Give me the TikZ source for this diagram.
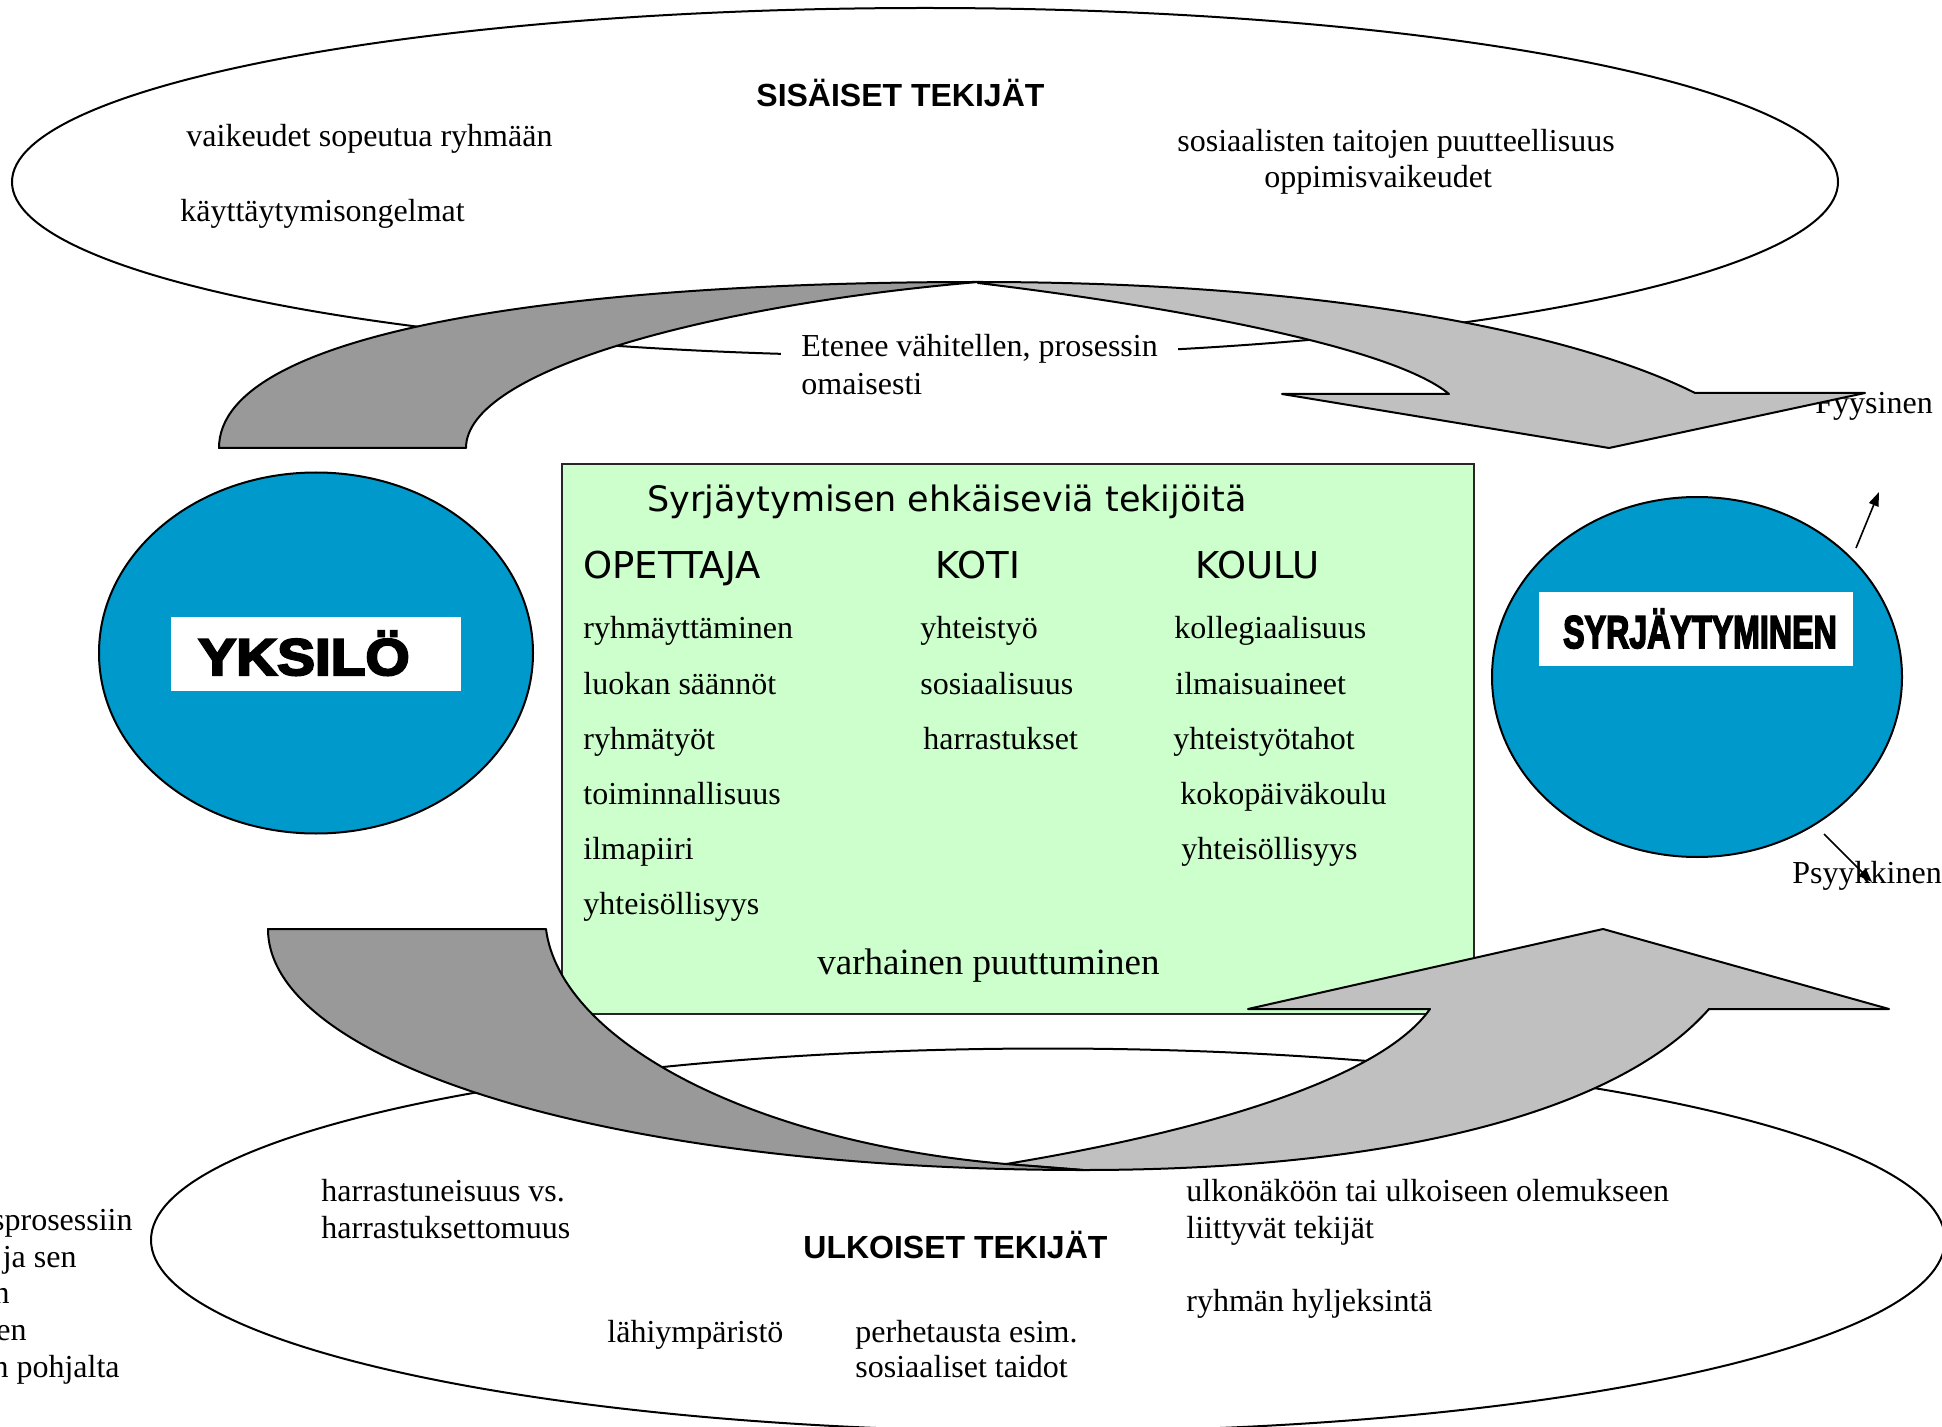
\documentclass[tikz,border=0pt]{standalone}
\usepackage{fontspec}
\setmainfont{Liberation Serif}
\newfontfamily\headfont{Liberation Sans}
\newfontfamily\boxfont{DejaVu Sans}
\newfontfamily\heavyfont{Liberation Sans}[FakeBold=4]
\usetikzlibrary{arrows.meta,shapes.geometric}

\begin{document}
\begin{tikzpicture}[x=0.5pt,y=0.5pt,yscale=-1,xscale=1,
  txt/.style={anchor=base west,inner sep=0pt,font=\fontsize{16}{19}\selectfont},
  txtr/.style={txt,anchor=base east},
  heading/.style={anchor=base west,inner sep=0pt,font=\headfont\bfseries\fontsize{16}{19}\selectfont},
  boxhead/.style={anchor=base west,inner sep=0pt,font=\boxfont\fontsize{18.5}{22}\selectfont},
  ring/.style={draw,shape=ellipse,line width=1pt,inner sep=0pt},
  blob/.style={draw,shape=ellipse,line width=1pt,inner sep=0pt,fill={rgb, 255:red, 0; green, 153; blue, 204 }},
  tag/.style={fill=white,inner sep=0pt},
  bigword/.style={anchor=base,inner sep=0pt,font=\heavyfont\bfseries},
  panel/.style={draw=black!85,line width=0.75pt,inner sep=0pt,fill={rgb, 255:red, 204; green, 255; blue, 204 }},
  backband/.style={draw,line width=1pt,line join=round,fill={rgb, 255:red, 153; green, 153; blue, 153 }},
  frontband/.style={draw,line width=1pt,line join=round,fill={rgb, 255:red, 192; green, 192; blue, 192 }},
  pointer/.style={line width=0.8pt,-{Triangle[length=7pt,width=5pt]}}
  ]
\useasboundingbox (0,0) rectangle (1942,1427);

%Shape: Ellipse
\node[ring,minimum width=913pt,minimum height=174pt] (inner) at (925,182) {};
%Shape: Ellipse
\node[ring,minimum width=897pt,minimum height=191.5pt] (outer) at (1048,1240) {};

% Text Node
\node[heading] (sisaiset) at (756,107) {SISÄISET TEKIJÄT};
\node[txt] (sopeutua) at (186,147) {vaikeudet sopeutua ryhmään};
\node[txt] (kaytos) at (180,222) {käyttäytymisongelmat};
\node[txt] (taidot) at (1177,152) {sosiaalisten taitojen puutteellisuus};
\node[txt] (oppiminen) at (1264,188) {oppimisvaikeudet};
\node[txt,fill=white,inner xsep=10pt,inner ysep=3pt] (etenee) at (781,357) {Etenee vähitellen, prosessin};
\node[txt] (omaisesti) at (801,395) {omaisesti};

% Text Node
\node[heading] (ulkoiset) at (803,1258) {ULKOISET TEKIJÄT};
\node[txt] (harrastus) at (321,1201) {harrastuneisuus vs.};
\node[txt] (harrastusB) at (321,1238) {harrastuksettomuus};
\node[txt] (ulkonako) at (1186,1201) {ulkonäköön tai ulkoiseen olemukseen};
\node[txt] (ulkonakoB) at (1186,1238) {liittyvät tekijät};
\node[txt] (hyljeksinta) at (1186,1311) {ryhmän hyljeksintä};
\node[txt] (lahiymparisto) at (607,1342) {lähiympäristö};
\node[txt] (perhe) at (855,1342) {perhetausta esim.};
\node[txt] (perheB) at (855,1377) {sosiaaliset taidot};

% Text Node
\node[txtr] (reunaA) at (133,1230) {sprosessiin};
\node[txtr] (reunaB) at (77,1267) {ja sen};
\node[txtr] (reunaC) at (10,1303) {n};
\node[txtr] (reunaD) at (27,1340) {en};
\node[txtr] (reunaE) at (120,1377) {n pohjalta};

%Shape: Ellipse
\node[blob,minimum width=217pt,minimum height=180.5pt] (yksilo) at (316,653) {};
\node[tag,minimum width=145pt,minimum height=37pt] (yksiloTag) at (316,654) {};
\node[bigword,font=\heavyfont\bfseries\fontsize{25.8}{30}\selectfont] (yksiloText) at (304,675) {\scalebox{1.1}[1]{YKSILÖ}};

%Shape: Ellipse
\node[blob,minimum width=205pt,minimum height=180pt] (syrj) at (1697,677) {};
\node[tag,minimum width=157pt,minimum height=37pt] (syrjTag) at (1696,629) {};
\node[bigword,font=\heavyfont\bfseries\fontsize{23}{27}\selectfont] (syrjText) at (1700,648) {\scalebox{0.7}[1]{SYRJÄYTYMINEN}};

%Shape: Rectangle
\node[panel,minimum width=456pt,minimum height=275pt] (ehkaisy) at (1018,739) {};
\node[boxhead,font=\boxfont\fontsize{17.5}{21}\selectfont] (ehkaisyTitle) at (647,511) {Syrjäytymisen ehkäiseviä tekijöitä};
\node[boxhead] (opettaja) at (583,578) {OPETTAJA};
\node[boxhead] (koti) at (935,578) {KOTI};
\node[boxhead] (koulu) at (1195,578) {KOULU};

\node[txt] (opA) at (583,638) {ryhmäyttäminen};
\node[txt] (opB) at (583,694) {luokan säännöt};
\node[txt] (opC) at (583,749) {ryhmätyöt};
\node[txt] (opD) at (583,804) {toiminnallisuus};
\node[txt] (opE) at (583,859) {ilmapiiri};
\node[txt] (opF) at (583,914) {yhteisöllisyys};

\node[txt] (kotiA) at (920,638) {yhteistyö};
\node[txt] (kotiB) at (920,694) {sosiaalisuus};
\node[txt] (kotiC) at (923,749) {harrastukset};

\node[txt] (kouluA) at (1174,638) {kollegiaalisuus};
\node[txt] (kouluB) at (1175,694) {ilmaisuaineet};
\node[txt] (kouluC) at (1173,749) {yhteistyötahot};
\node[txt] (kouluD) at (1180,804) {kokopäiväkoulu};
\node[txt] (kouluE) at (1181,859) {yhteisöllisyys};

\node[txt,font=\fontsize{18.5}{22}\selectfont] (varhainen) at (817,974) {varhainen puuttuminen};

% Text Node
\node[txt] (fyysinen) at (1815,414) {Fyysinen};
\node[txt] (psyykkinen) at (1792,883) {Psyykkinen};

%Curved Arrow (top)
\draw[backband] (219,448) .. controls (219,330) and (570,282) .. (978,282) .. controls (710,305) and (466,370) .. (466,448) -- cycle;
\draw[frontband] (978,282) .. controls (1355,282) and (1590,340) .. (1695,393) -- (1865,393) -- (1609,448) -- (1282,394) -- (1449,394) .. controls (1390,345) and (1160,305) .. (978,283) -- cycle;

%Curved Arrow (bottom)
\draw[frontband] (1006,1164) -- (1083,1170) .. controls (1400,1170) and (1620,1110) .. (1709,1009) -- (1889,1009) -- (1603,929) -- (1248,1009) -- (1430,1009) .. controls (1380,1080) and (1200,1132) .. (1006,1164) -- cycle;
\draw[backband] (268,929) .. controls (268,1060) and (600,1170) .. (1083,1170) -- (1006,1164) .. controls (750,1142) and (560,1040) .. (546,929) -- cycle;

%Straight Lines
\coordinate (fyysTail) at (1856,548);
\coordinate (fyysTip) at (1879,492);
\draw[pointer] (fyysTail) -- (fyysTip);
%Straight Lines
\coordinate (psyTail) at (1824,834);
\coordinate (psyTip) at (1872,882);
\draw[pointer] (psyTail) -- (psyTip);

\end{tikzpicture}
\end{document}
